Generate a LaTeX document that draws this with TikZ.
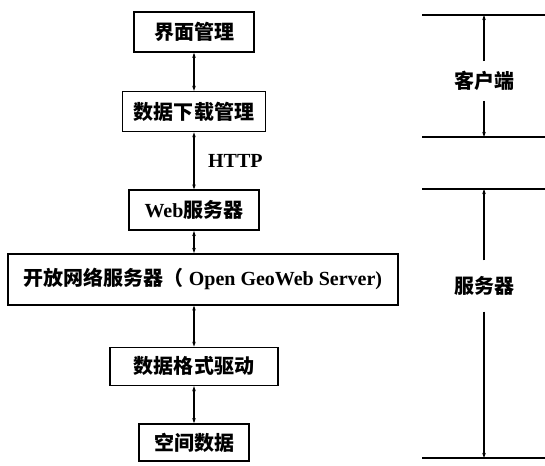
\documentclass[tikz,border=0pt]{standalone}
\usepackage{fontspec}
\setmainfont{Liberation Serif}
\newfontfamily\cjk{Noto Sans CJK SC}
\newcommand{\zh}[1]{{\cjk #1}}
\usepackage{tikz}
\usetikzlibrary{matrix,arrows.meta}

\begin{document}
\begin{tikzpicture}[x=1pt,y=-1pt,
  every node/.style={font=\fontsize{20}{24}\selectfont\bfseries},
  box/.style={draw,line width=1.6pt,minimum height=40pt,inner xsep=0pt},
  link/.style={line width=1.6pt,{Stealth[length=5pt,width=3.5pt]}-{Stealth[length=5pt,width=3.5pt]}},
  dim/.style={line width=1.4pt,-{Stealth[length=5pt,width=3.5pt]}},
  level/.style={line width=1.4pt}]
  \useasboundingbox (0,0) rectangle (545,465);
  \matrix (m) [matrix of nodes, nodes={box}, row sep=0pt, inner sep=0pt, anchor=north] at (203,11)
  {
    |[minimum width=120pt]| \zh{界面管理} \\[38pt]
    |[minimum width=143pt]| \zh{数据下载管理} \\[57pt]
    |[minimum width=130pt]| Web\zh{服务器} \\[22pt]
    |[minimum width=390pt,minimum height=51pt,xshift=9pt]| \zh{开放网络服务器（} Open GeoWeb Server) \\[41pt]
    |[minimum width=168pt,minimum height=38pt]| \zh{数据格式驱动} \\[37pt]
    |[minimum width=110pt,minimum height=37pt]| \zh{空间数据} \\
  };
  \path[link]
  (m-1-1) edge (m-2-1)
  (m-2-1) edge node [right=10pt] {HTTP} (m-3-1)
  (m-3-1.south) edge (m-3-1.south |- m-4-1.north)
  (m-5-1.north |- m-4-1.south) edge (m-5-1.north)
  (m-5-1) edge (m-6-1)
  ;
  \draw[level] (422,15) -- (545,15);
  \draw[level] (422,137) -- (545,137);
  \draw[level] (422,189) -- (545,189);
  \draw[level] (422,458) -- (545,458);
  \coordinate (c-top) at (484,15);
  \coordinate (c-bot) at (484,137);
  \coordinate (s-top) at (484,189);
  \coordinate (s-bot) at (484,458);
  \node[inner ysep=10pt] (client) at (484,81) {\zh{客户端}};
  \node[inner ysep=16pt] (server) at (484,286) {\zh{服务器}};
  \draw[dim] (client) -- (c-top);
  \draw[dim] (client) -- (c-bot);
  \draw[dim] (server) -- (s-top);
  \draw[dim] (server) -- (s-bot);
\end{tikzpicture}
\end{document}
